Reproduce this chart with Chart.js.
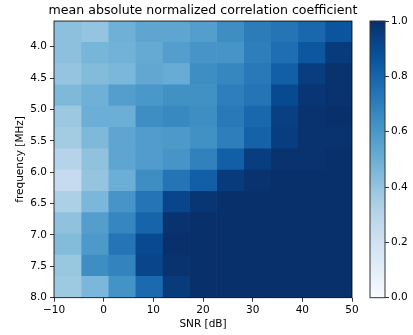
<!DOCTYPE html>
<html>
<head>
<meta charset="utf-8">
<script src="https://cdn.jsdelivr.net/npm/chart.js@4"></script>
<style>
  html, body { margin: 0; padding: 0; background: #fff; }
  #wrap { position: relative; width: 413px; height: 335px; }
  #main { position: absolute; left: 0; top: 0; z-index: 1; }
  #cbar { position: absolute; left: 360px; top: 0; z-index: 2; }
</style>
</head>
<body>
<div id="wrap">
  <canvas id="main" width="406" height="335"></canvas>
  <canvas id="cbar" width="53" height="335"></canvas>
</div>
<script>
// ---- data ----
const snrEdges = [-10, -4.55, 0.91, 6.36, 11.82, 17.27, 22.73, 28.18, 33.64, 39.09, 44.55, 50];
const freqRows = ['3.76', '4.10', '4.44', '4.78', '5.12', '5.46', '5.80', '6.13', '6.47', '6.81', '7.15', '7.49', '7.83'];
const freqMin = 3.59;
const freqMax = 8.0;
const xTicks = [-10, 0, 10, 20, 30, 40, 50];
const yTicks = [4.0, 4.5, 5.0, 5.5, 6.0, 6.5, 7.0, 7.5, 8.0];
const cbTicks = [0.0, 0.2, 0.4, 0.6, 0.8, 1.0];
// mean absolute normalized correlation coefficient, rows = frequency (top to bottom), cols = SNR
const corr = [
  [0.42, 0.40, 0.49, 0.54, 0.54, 0.57, 0.64, 0.71, 0.74, 0.79, 0.86],
  [0.42, 0.47, 0.48, 0.52, 0.57, 0.61, 0.61, 0.70, 0.76, 0.85, 0.96],
  [0.40, 0.44, 0.46, 0.53, 0.51, 0.64, 0.67, 0.72, 0.82, 0.95, 0.99],
  [0.45, 0.49, 0.57, 0.60, 0.63, 0.63, 0.70, 0.74, 0.90, 0.98, 0.99],
  [0.38, 0.50, 0.50, 0.64, 0.66, 0.64, 0.72, 0.79, 0.94, 0.99, 1.00],
  [0.36, 0.45, 0.54, 0.58, 0.59, 0.63, 0.70, 0.81, 0.95, 0.99, 0.99],
  [0.30, 0.41, 0.54, 0.58, 0.61, 0.69, 0.82, 0.95, 0.99, 0.99, 1.00],
  [0.25, 0.40, 0.50, 0.64, 0.74, 0.82, 0.96, 0.99, 1.00, 1.00, 1.00],
  [0.33, 0.46, 0.61, 0.74, 0.92, 0.98, 1.00, 1.00, 1.00, 1.00, 1.00],
  [0.41, 0.57, 0.67, 0.80, 0.99, 1.00, 1.00, 1.00, 1.00, 1.00, 1.00],
  [0.44, 0.59, 0.74, 0.90, 1.00, 1.00, 1.00, 1.00, 1.00, 1.00, 1.00],
  [0.39, 0.64, 0.68, 0.92, 0.99, 1.00, 1.00, 1.00, 1.00, 1.00, 1.00],
  [0.375, 0.46, 0.62, 0.78, 0.96, 1.00, 1.00, 1.00, 1.00, 1.00, 1.00]
];

// matplotlib "Blues" colormap
const bluesStops = [
  [247, 251, 255], [222, 235, 247], [198, 219, 239], [158, 202, 225], [107, 174, 214],
  [66, 146, 198], [33, 113, 181], [8, 81, 156], [8, 48, 107]
];
function blues(v) {
  v = Math.max(0, Math.min(1, v));
  const p = v * (bluesStops.length - 1);
  const i = Math.min(Math.floor(p), bluesStops.length - 2);
  const t = p - i;
  const a = bluesStops[i], b = bluesStops[i + 1];
  const c = a.map((x, k) => Math.round(x + (b[k] - x) * t));
  return 'rgb(' + c.join(',') + ')';
}

Chart.defaults.font.family = "'DejaVu Sans', sans-serif";
Chart.defaults.font.size = 10.5;
Chart.defaults.color = '#000';

const fmtMinus = v => (v < 0 ? '\u2212' + Math.abs(v) : String(v));

const frame = (color, width) => ({
  id: 'frame',
  afterDatasetsDraw(chart) {
    const a = chart.chartArea, c = chart.ctx;
    c.save();
    c.strokeStyle = color;
    c.lineWidth = width;
    c.strokeRect(a.left, a.top, a.right - a.left, a.bottom - a.top);
    c.restore();
  }
});

const datasets = snrEdges.slice(0, -1).map((x0, c) => ({
  data: freqRows.map(() => [x0, snrEdges[c + 1]]),
  backgroundColor: corr.map(row => blues(row[c])),
  borderWidth: 0,
  grouped: false,
  categoryPercentage: 1,
  barPercentage: 1,
  xAxisID: 'x',
  yAxisID: 'yCat'
}));

const tickGrid = { display: true, drawOnChartArea: false, drawTicks: true, tickLength: 4, color: '#000', lineWidth: 0.8 };

new Chart(document.getElementById('main'), {
  type: 'bar',
  data: { labels: freqRows, datasets },
  options: {
    indexAxis: 'y',
    responsive: false,
    animation: false,
    devicePixelRatio: 1,
    layout: { padding: { left: 0, right: 0, top: 0, bottom: 0 } },
    plugins: {
      legend: { display: false },
      tooltip: { enabled: false },
      title: {
        display: true,
        text: 'mean absolute normalized correlation coefficient',
        fullSize: true,
        font: { size: 12.6, weight: 'normal' },
        color: '#000',
        padding: { top: 3, bottom: 2.9 }
      }
    },
    scales: {
      x: {
        type: 'linear', position: 'bottom', min: -10, max: 50, offset: false,
        afterBuildTicks: s => { s.ticks = xTicks.map(v => ({ value: v })); },
        ticks: { callback: v => fmtMinus(v), padding: 2, maxRotation: 0, autoSkip: false },
        grid: tickGrid,
        border: { display: false },
        title: { display: true, text: 'SNR [dB]', font: { size: 10.5 }, padding: { top: 0, bottom: 4 } },
        afterFit: s => { s.height = 37.3; }
      },
      yCat: { type: 'category', labels: freqRows, display: false, offset: true, grid: { offset: true } },
      y: {
        type: 'linear', position: 'left', min: freqMin, max: freqMax, reverse: true, offset: false,
        afterBuildTicks: s => { s.ticks = yTicks.map(v => ({ value: v })); },
        ticks: { callback: v => v.toFixed(1), padding: 3, autoSkip: false },
        grid: { ...tickGrid, offset: false },
        border: { display: false },
        title: { display: true, text: 'frequency [MHz]', font: { size: 10.5 }, padding: { top: 14, bottom: 0 } },
        afterFit: s => { s.width = 54; }
      },
      ySpace: {
        type: 'linear', position: 'right', min: 0, max: 1, offset: false,
        ticks: { display: false },
        grid: { display: false, drawTicks: false },
        border: { display: false },
        afterFit: s => { s.width = 54; }
      }
    }
  },
  plugins: [frame('#000', 0.8)]
});

new Chart(document.getElementById('cbar'), {
  type: 'bar',
  data: {
    labels: ['cb'],
    datasets: [{
      data: [[0, 1]],
      borderWidth: 0,
      categoryPercentage: 1,
      barPercentage: 1,
      backgroundColor: ctx => {
        const a = ctx.chart.chartArea;
        if (!a) return blues(0.5);
        const g = ctx.chart.ctx.createLinearGradient(0, a.bottom, 0, a.top);
        bluesStops.forEach((s, i) => g.addColorStop(i / (bluesStops.length - 1), 'rgb(' + s.join(',') + ')'));
        return g;
      }
    }]
  },
  options: {
    responsive: false,
    animation: false,
    devicePixelRatio: 1,
    layout: { padding: { left: 10, right: 0, top: 21, bottom: 37.3 } },
    plugins: { legend: { display: false }, tooltip: { enabled: false }, title: { display: false } },
    scales: {
      x: { type: 'category', display: false },
      y: {
        type: 'linear', position: 'right', min: 0, max: 1, offset: false,
        afterBuildTicks: s => { s.ticks = cbTicks.map(v => ({ value: v })); },
        ticks: { callback: v => v.toFixed(1), padding: 2, autoSkip: false },
        grid: { ...tickGrid, offset: false },
        border: { display: false },
        afterFit: s => { s.width = 28; }
      }
    }
  },
  plugins: [frame('#333', 1)]
});
</script>
</body>
</html>
